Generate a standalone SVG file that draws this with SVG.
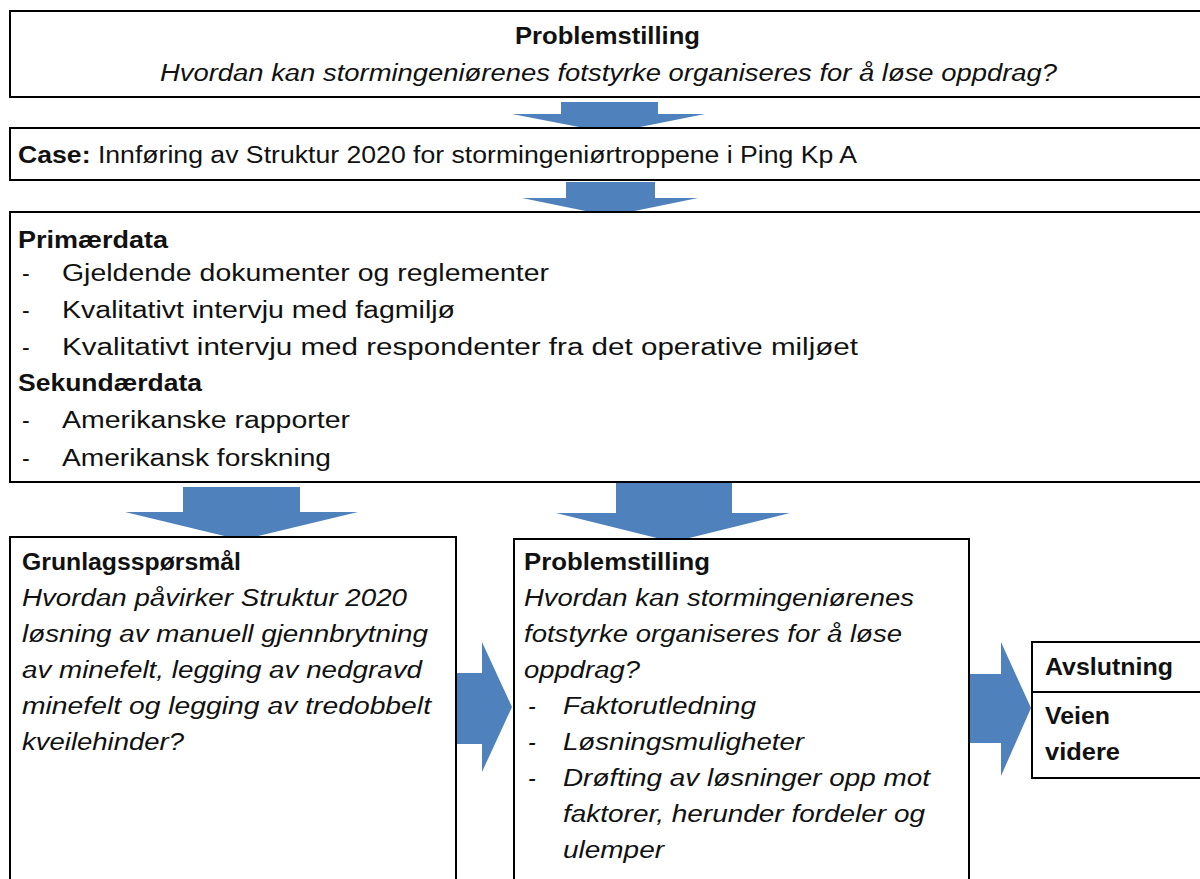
<svg xmlns="http://www.w3.org/2000/svg" width="1200" height="879" viewBox="0 0 1200 879">
<style>
.box{fill:#fff;stroke:#000;stroke-width:2}
.arr{fill:#4f81bd}
text{font-family:"Liberation Sans",Arial,sans-serif;font-size:23px;fill:#111}
.b{font-weight:bold}
.i{font-style:italic}
</style>
<rect width="1200" height="879" fill="#fff"/>
<g id="connectors">
<polygon class="arr" points="561,102 658,102 658,114 705,114 610,133 512,114 561,114"/>
<polygon class="arr" points="566,182 655,182 655,198 698,198 610,216 522,198 566,198"/>
<polygon class="arr" points="183,487 300,487 300,512 358,512 241,540 125,512 183,512"/>
<polygon class="arr" points="616,482 732,482 732,513 790,513 673,542 556,513 616,513"/>
<polygon class="arr" points="440,673 482,673 482,642 512,707 482,772 482,744 440,744"/>
<polygon class="arr" points="960,674 1001,674 1001,642 1031,708 1001,776 1001,743 960,743"/>
</g>
<g id="node-problem">
<rect class="box" x="10" y="11" width="1200" height="86"/>
<text class="b" x="515" y="44" textLength="185" lengthAdjust="spacingAndGlyphs">Problemstilling</text>
<text class="i" x="160" y="81" textLength="897" lengthAdjust="spacingAndGlyphs">Hvordan  kan stormingeniørenes fotstyrke organiseres for å løse oppdrag?</text>
</g>
<g id="node-case">
<rect class="box" x="10" y="128" width="1200" height="52"/>
<text x="18" y="163" textLength="839" lengthAdjust="spacingAndGlyphs"><tspan class="b">Case:</tspan> Innføring av Struktur 2020 for stormingeniørtroppene i Ping Kp A</text>
</g>
<g id="node-data">
<rect class="box" x="10" y="212" width="1200" height="270"/>
<text class="b" x="18" y="248" textLength="150" lengthAdjust="spacingAndGlyphs">Primærdata</text>
<text x="22" y="281">-</text>
<text x="62" y="281" textLength="487" lengthAdjust="spacingAndGlyphs">Gjeldende dokumenter og reglementer</text>
<text x="22" y="318">-</text>
<text x="62" y="318" textLength="393" lengthAdjust="spacingAndGlyphs">Kvalitativt intervju med fagmiljø</text>
<text x="22" y="355">-</text>
<text x="62" y="355" textLength="796" lengthAdjust="spacingAndGlyphs">Kvalitativt intervju med respondenter fra det operative miljøet</text>
<text class="b" x="18" y="391" textLength="184" lengthAdjust="spacingAndGlyphs">Sekundærdata</text>
<text x="22" y="428">-</text>
<text x="62" y="428" textLength="288" lengthAdjust="spacingAndGlyphs">Amerikanske rapporter</text>
<text x="22" y="466">-</text>
<text x="62" y="466" textLength="269" lengthAdjust="spacingAndGlyphs">Amerikansk forskning</text>
</g>
<g id="node-grunlag">
<rect class="box" x="10" y="537" width="446" height="350"/>
<text class="b" x="22" y="570" textLength="219" lengthAdjust="spacingAndGlyphs">Grunlagsspørsmål</text>
<text class="i" x="22" y="606" textLength="385" lengthAdjust="spacingAndGlyphs">Hvordan  påvirker Struktur 2020</text>
<text class="i" x="22" y="642" textLength="406" lengthAdjust="spacingAndGlyphs">løsning av manuell gjennbrytning</text>
<text class="i" x="22" y="678" textLength="400" lengthAdjust="spacingAndGlyphs">av minefelt, legging av nedgravd</text>
<text class="i" x="22" y="714" textLength="409" lengthAdjust="spacingAndGlyphs">minefelt og legging av tredobbelt</text>
<text class="i" x="22" y="750" textLength="162" lengthAdjust="spacingAndGlyphs">kveilehinder?</text>
</g>
<g id="node-problem2">
<rect class="box" x="514" y="539" width="455" height="350"/>
<text class="b" x="524" y="570" textLength="186" lengthAdjust="spacingAndGlyphs">Problemstilling</text>
<text class="i" x="524" y="606" textLength="390" lengthAdjust="spacingAndGlyphs">Hvordan kan stormingeniørenes</text>
<text class="i" x="524" y="642" textLength="378" lengthAdjust="spacingAndGlyphs">fotstyrke organiseres for å løse</text>
<text class="i" x="524" y="678" textLength="116" lengthAdjust="spacingAndGlyphs">oppdrag?</text>
<text class="i" x="528" y="714">-</text>
<text class="i" x="563" y="714" textLength="193" lengthAdjust="spacingAndGlyphs">Faktorutledning</text>
<text class="i" x="528" y="750">-</text>
<text class="i" x="563" y="750" textLength="241" lengthAdjust="spacingAndGlyphs">Løsningsmuligheter</text>
<text class="i" x="528" y="786">-</text>
<text class="i" x="563" y="786" textLength="367" lengthAdjust="spacingAndGlyphs">Drøfting av løsninger opp mot</text>
<text class="i" x="563" y="822" textLength="362" lengthAdjust="spacingAndGlyphs">faktorer, herunder fordeler og</text>
<text class="i" x="563" y="858" textLength="101" lengthAdjust="spacingAndGlyphs">ulemper</text>
</g>
<g id="node-avslutning">
<rect class="box" x="1032" y="642" width="200" height="136"/>
<line x1="1032" y1="692" x2="1210" y2="692" stroke="#000" stroke-width="2"/>
<text class="b" x="1045" y="675" textLength="128" lengthAdjust="spacingAndGlyphs">Avslutning</text>
<text class="b" x="1045" y="724" textLength="65" lengthAdjust="spacingAndGlyphs">Veien</text>
<text class="b" x="1045" y="760" textLength="75" lengthAdjust="spacingAndGlyphs">videre</text>
</g>
</svg>
